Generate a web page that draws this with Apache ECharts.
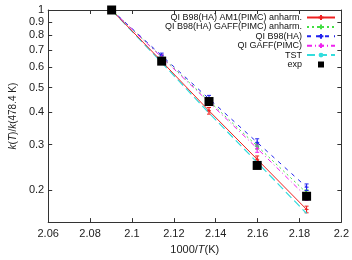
<!DOCTYPE html>
<html><head><meta charset="utf-8">
<script src="https://cdn.jsdelivr.net/npm/echarts@6/dist/echarts.min.js"></script>
<style>html,body{margin:0;padding:0;background:#fff}#c{width:352px;height:260px}</style>
</head><body><div id="c"></div>
<script>
// 1000/T values (T = 478, 473, 468, 463, 458 K)
var xVals = [2.0903, 2.1142, 2.1368, 2.1598, 2.1834];
var seriesNames = ['QI B98(HA) AM1(PIMC) anharm.', 'QI B98(HA) GAFF(PIMC) anharm.', 'QI B98(HA)', 'QI GAFF(PIMC)', 'TST', 'exp'];
var am1Anh = [1, 0.632, 0.406, 0.263, 0.168];
var am1Err = [0, 0.012, 0.012, 0.008, 0.005];
var gaffAnh = [1, 0.658, 0.443, 0.296, 0.195];
var gaffAnhErr = [0, 0.012, 0.010, 0.008, 0.005];
var b98 = [1, 0.665, 0.452, 0.306, 0.205];
var b98Err = [0, 0.015, 0.014, 0.010, 0.006];
var gaffPimc = [1, 0.655, 0.438, 0.290, 0.188];
var gaffPimcErr = [0, 0.015, 0.012, 0.010, 0.006];
var tst = [1, 0.625, 0.398, 0.256, 0.162];
var expVals = [1, 0.633, 0.441, 0.249, 0.189];
var xTicks = [2.06, 2.08, 2.1, 2.12, 2.14, 2.16, 2.18, 2.2];
var yTicks = [0.2, 0.3, 0.4, 0.5, 0.6, 0.7, 0.8, 0.9, 1];

var colors = ['#ee2020', '#44dd44', '#2222ee', '#ee22ee', '#33dddd', '#000000'];
function pairs(ys) { return xVals.map(function (x, i) { return [x, ys[i]]; }); }
function errData(ys, es) { return xVals.map(function (x, i) { return [x, ys[i] - es[i], ys[i] + es[i]]; }); }
function errSeries(ys, es, color) {
  return {
    type: 'custom', silent: true, z: 3,
    data: errData(ys, es),
    encode: { x: 0, y: [1, 2] },
    renderItem: function (params, api) {
      var x = api.value(0);
      var lo = api.coord([x, api.value(1)]);
      var hi = api.coord([x, api.value(2)]);
      var w = 2;
      var st = { stroke: color, lineWidth: 1 };
      return { type: 'group', children: [
        { type: 'line', shape: { x1: lo[0], y1: lo[1], x2: hi[0], y2: hi[1] }, style: st },
        { type: 'line', shape: { x1: lo[0] - w, y1: lo[1], x2: lo[0] + w, y2: lo[1] }, style: st },
        { type: 'line', shape: { x1: hi[0] - w, y1: hi[1], x2: hi[0] + w, y2: hi[1] }, style: st }
      ] };
    }
  };
}
var plusPath = 'path://M5,0L5,10M0,5L10,5';
function lineSeries(idx, ys, dash, sym) {
  var c = colors[idx];
  return {
    name: seriesNames[idx], type: 'line', data: pairs(ys),
    lineStyle: { width: 1, type: dash, color: c },
    symbol: sym, symbolSize: 4,
    itemStyle: { color: c, borderColor: c, borderWidth: 1, opacity: 1 }, z: 4
  };
}
var chart = echarts.init(document.getElementById('c'), null, { renderer: 'canvas' });
var axisFont = { fontFamily: 'Liberation Sans, Arial, sans-serif', fontSize: 11, color: '#222' };
var option = {
  animation: false,
  backgroundColor: '#fff',
  color: colors,
  textStyle: { fontFamily: 'Liberation Sans, Arial, sans-serif' },
  grid: { left: 39, right: 9, top: 10, bottom: 30 },
  legend: {
    orient: 'vertical', right: 11, top: 8, align: 'right',
    itemWidth: 28, itemHeight: 6, itemGap: 0.4,
    textStyle: { fontSize: 9, lineHeight: 9, color: '#111', fontFamily: 'Liberation Sans, Arial, sans-serif' },
    data: [
      { name: seriesNames[0] }, { name: seriesNames[1] }, { name: seriesNames[2] },
      { name: seriesNames[3] }, { name: seriesNames[4] },
      { name: seriesNames[5], icon: 'path://M0,0L10,0L10,10L0,10Z' }
    ]
  },
  xAxis: [{
    type: 'value', min: 2.06, max: 2.2, interval: 0.02, position: 'bottom',
    name: '1000/{i|T}(K)', nameLocation: 'middle', nameGap: 19,
    nameTextStyle: { fontSize: 11, color: '#222', rich: { i: { fontStyle: 'italic', fontSize: 11, color: '#222' } } },
    axisLine: { lineStyle: { color: '#333', width: 1 } },
    axisTick: { inside: true, length: 4, lineStyle: { color: '#333' } },
    axisLabel: Object.assign({ margin: 6, formatter: function (v) { return String(parseFloat(v.toFixed(2))); } }, axisFont),
    splitLine: { show: false }
  }, {
    type: 'value', min: 2.06, max: 2.2, interval: 0.02, position: 'top',
    axisLine: { show: true, lineStyle: { color: '#333', width: 1 } },
    axisTick: { inside: true, length: 4, lineStyle: { color: '#333' } },
    axisLabel: { show: false }, splitLine: { show: false }
  }],
  yAxis: [{
    type: 'log', logBase: 10, min: 0.15, max: 1, position: 'left',
    name: '{i|k}({i|T})/{i|k}(478.4 K)', nameLocation: 'middle', nameGap: 28,
    nameTextStyle: { fontSize: 10, color: '#222', rich: { i: { fontStyle: 'italic', fontSize: 10, color: '#222' } } },
    axisLine: { show: true, lineStyle: { color: '#333', width: 1 } },
    axisTick: { inside: true, length: 4, lineStyle: { color: '#333' }, customValues: yTicks },
    axisLabel: Object.assign({ margin: 4, customValues: yTicks, formatter: function (v) { return String(parseFloat(Number(v).toFixed(2))); } }, axisFont),
    minorTick: { show: false }, splitLine: { show: false }
  }, {
    type: 'log', logBase: 10, min: 0.15, max: 1, position: 'right',
    axisLine: { show: true, lineStyle: { color: '#333', width: 1 } },
    axisTick: { inside: true, length: 4, lineStyle: { color: '#333' }, customValues: yTicks },
    axisLabel: { show: false, customValues: yTicks }, splitLine: { show: false }
  }],
  series: [
    lineSeries(0, am1Anh, 'solid', plusPath),
    lineSeries(1, gaffAnh, [2, 3], plusPath),
    lineSeries(2, b98, [4, 5], plusPath),
    lineSeries(3, gaffPimc, [5, 3, 1, 3], plusPath),
    { name: seriesNames[4], type: 'line', data: pairs(tst),
      lineStyle: { width: 1.2, type: [8, 4], color: colors[4] }, itemStyle: { color: colors[4] },
      symbol: 'none', z: 3 },
    { name: seriesNames[5], type: 'scatter', data: pairs(expVals),
      symbol: 'rect', symbolSize: 9, itemStyle: { color: '#000', opacity: 1 }, z: 6 },
    errSeries(am1Anh, am1Err, colors[0]),
    errSeries(gaffAnh, gaffAnhErr, colors[1]),
    errSeries(b98, b98Err, colors[2]),
    errSeries(gaffPimc, gaffPimcErr, colors[3])
  ]
};
chart.setOption(option);
</script></body></html>
